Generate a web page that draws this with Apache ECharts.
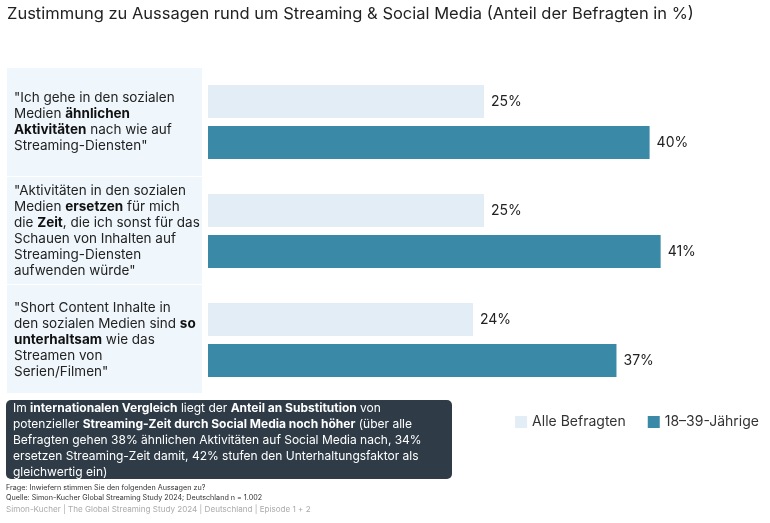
<!DOCTYPE html>
<html><head><meta charset="utf-8">
<script src="https://cdn.jsdelivr.net/npm/echarts@6/dist/echarts.min.js"></script>
<style>html,body{margin:0;padding:0;background:#fff}#c{width:770px;height:523px}</style>
</head><body><div id="c"></div>
<script>
var categories = [
  '{n|"Ich gehe in den sozialen}\n{n|Medien }{b|ähnlichen}\n{b|Aktivitäten}{n| nach wie auf}\n{n|Streaming-Diensten"}',
  '{n|"Aktivitäten in den sozialen}\n{n|Medien }{b|ersetzen}{n| für mich}\n{n|die }{b|Zeit}{n|, die ich sonst für das}\n{n|Schauen von Inhalten auf}\n{n|Streaming-Diensten}\n{n|aufwenden würde"}',
  '{n|"Short Content Inhalte in}\n{n|den sozialen Medien sind }{b|so}\n{b|unterhaltsam}{n| wie das}\n{n|Streamen von}\n{n|Serien/Filmen"}'
];
var seriesNames = ['Alle Befragten', '18–39-Jährige'];
var allValues = [25, 25, 24];
var youngValues = [40, 41, 37];
var titleText = 'Zustimmung zu Aussagen rund um Streaming & Social Media (Anteil der Befragten in %)';

var FONT = 'Inter, Roboto, sans-serif';
var chart = echarts.init(document.getElementById('c'), null, {renderer: 'canvas'});
chart.setOption({
  animation: false,
  textStyle: {fontFamily: FONT},
  title: {
    text: titleText, left: 2, top: 1,
    textStyle: {fontFamily: FONT, fontSize: 16.5, fontWeight: 'normal', color: '#222'}
  },
  legend: {
    data: seriesNames,
    right: 6, top: 410,
    icon: 'rect', itemWidth: 12, itemHeight: 12, itemGap: 22,
    textStyle: {fontFamily: FONT, fontSize: 14, color: '#333'}
  },
  grid: {left: 208, right: 10, top: 67.5, bottom: 128.5, containLabel: false},
  xAxis: {type: 'value', min: 0, max: 50, show: false},
  yAxis: {
    type: 'category', data: categories, inverse: true,
    axisLine: {show: false}, axisTick: {show: false},
    axisLabel: {
      align: 'left', margin: 194,
      rich: {
        n: {fontFamily: FONT, fontSize: 13.5, color: '#222', lineHeight: 16},
        b: {fontFamily: FONT, fontSize: 13.5, color: '#111', fontWeight: 'bold', lineHeight: 16}
      }
    }
  },
  graphic: [
    {type: 'rect', z: -10, shape: {x: 7, y: 68, width: 195, height: 108}, style: {fill: '#eff7fd'}},
    {type: 'rect', z: -10, shape: {x: 7, y: 177, width: 195, height: 107}, style: {fill: '#eff7fd'}},
    {type: 'rect', z: -10, shape: {x: 7, y: 285, width: 195, height: 108}, style: {fill: '#eff7fd'}},
    {type: 'rect', shape: {x: 6, y: 400, width: 446, height: 79, r: 5}, style: {fill: '#2f3c47'}},
    {type: 'text', left: 13, top: 402, style: {
      text: '{n|Im }{b|internationalen Vergleich}{n| liegt der }{b|Anteil an Substitution}{n| von}\n{n|potenzieller }{b|Streaming-Zeit durch Social Media noch höher}{n| (über alle}\n{n|Befragten gehen 38% ähnlichen Aktivitäten auf Social Media nach, 34%}\n{n|ersetzen Streaming-Zeit damit, 42% stufen den Unterhaltungsfaktor als}\n{n|gleichwertig ein)}',
      rich: {
        n: {fontFamily: FONT, fontSize: 12, fill: '#ffffff', lineHeight: 16},
        b: {fontFamily: FONT, fontSize: 12, fill: '#ffffff', fontWeight: 'bold', lineHeight: 16}
      }
    }},
    {type: 'text', left: 6, top: 483, style: {
      text: 'Frage: Inwiefern stimmen Sie den folgenden Aussagen zu?\nQuelle: Simon-Kucher Global Streaming Study 2024; Deutschland n = 1.002',
      fontFamily: FONT, fontSize: 7.2, lineHeight: 10, fill: '#333'
    }},
    {type: 'text', left: 6, top: 506, style: {
      text: 'Simon-Kucher | The Global Streaming Study 2024 | Deutschland | Episode 1 + 2',
      fontFamily: FONT, fontSize: 8.1, fill: '#aaaaaa'
    }}
  ],
  series: [
    {
      name: seriesNames[0], type: 'bar', data: allValues,
      barWidth: 33, barGap: '24%',
      itemStyle: {color: '#e3edf6'},
      label: {show: true, position: 'right', distance: 7, formatter: '{c}%', fontFamily: FONT, fontSize: 14, color: '#222'}
    },
    {
      name: seriesNames[1], type: 'bar', data: youngValues,
      barWidth: 33, barGap: '24%',
      itemStyle: {color: '#3a8aa7'},
      label: {show: true, position: 'right', distance: 7, formatter: '{c}%', fontFamily: FONT, fontSize: 14, color: '#222'}
    }
  ]
});
</script></body></html>
